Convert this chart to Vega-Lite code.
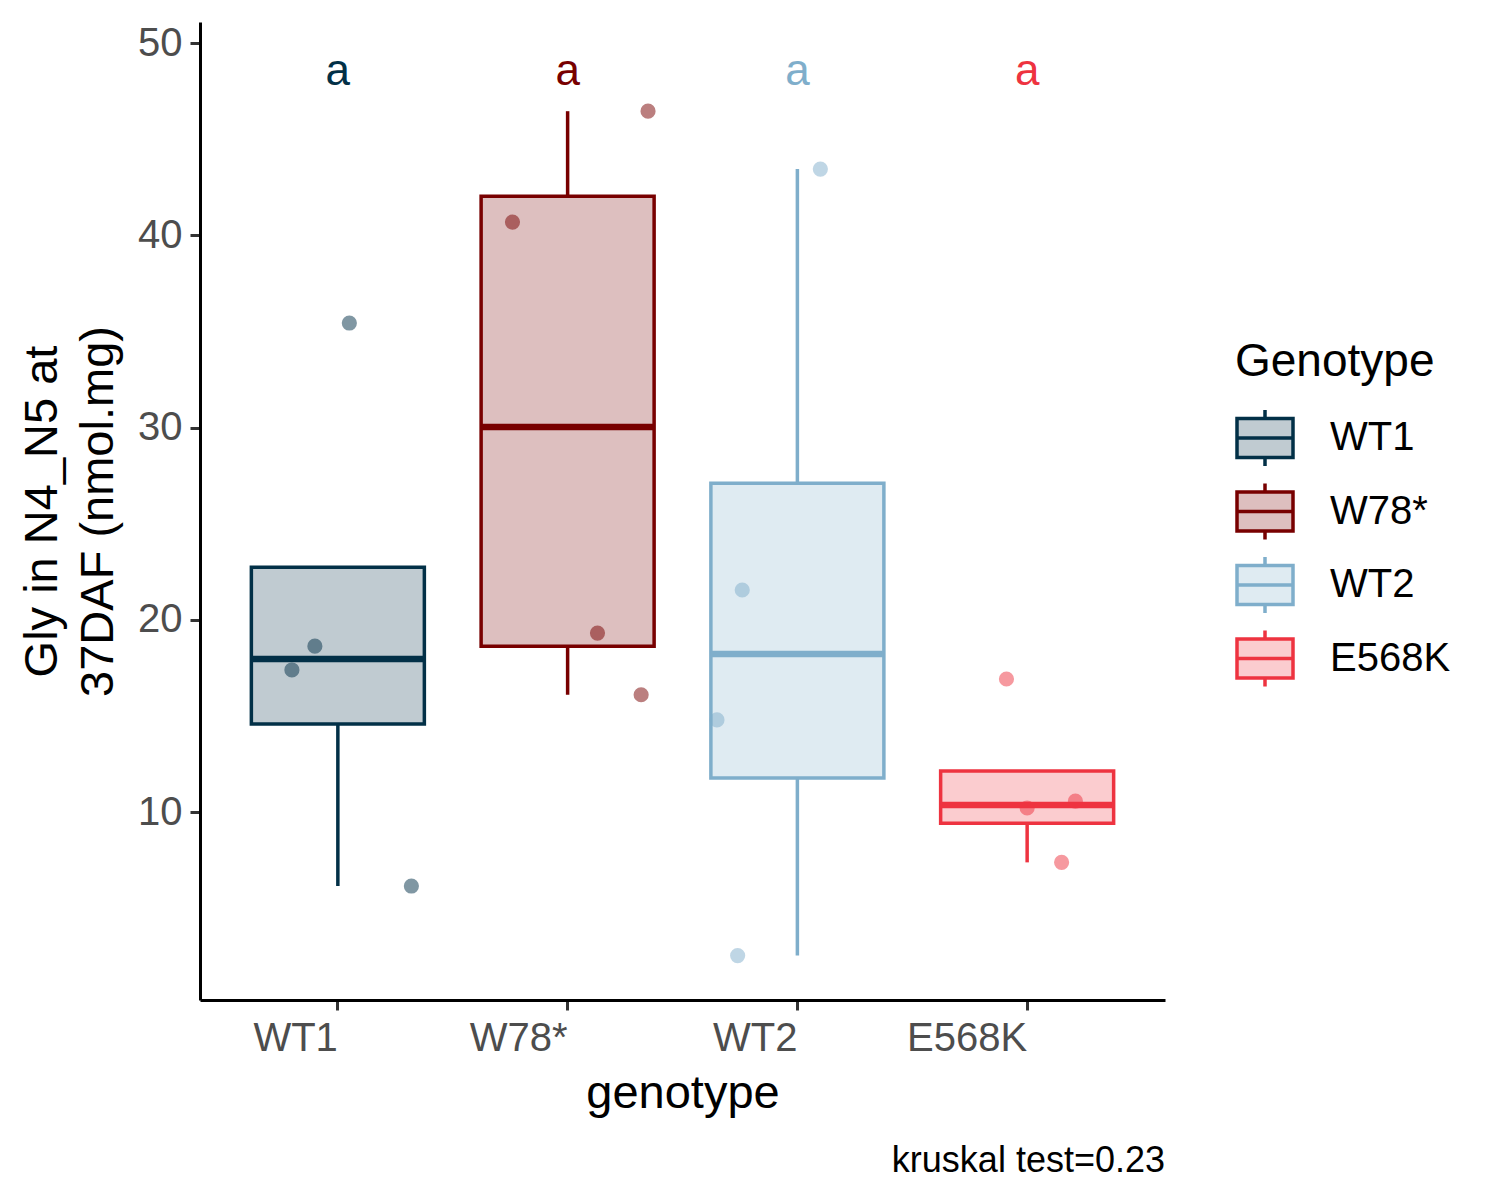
{
  "$schema": "https://vega.github.io/schema/vega-lite/v6.json",
  "autosize": {"type": "none"},
  "width": 965,
  "height": 978,
  "padding": {"left": 200, "top": 22, "right": 335, "bottom": 200},
  "background": "white",
  "config": {
    "font": "Liberation Sans",
    "view": {"stroke": null},
    "axis": {
      "grid": false,
      "domainColor": "black",
      "domainWidth": 3,
      "tickColor": "#333333",
      "tickWidth": 3,
      "tickSize": 10,
      "labelColor": "#4D4D4D",
      "labelFontSize": 40,
      "labelFont": "Liberation Sans",
      "titleFont": "Liberation Sans",
      "titleFontSize": 47,
      "titleFontWeight": "normal",
      "titleColor": "black"
    }
  },
  "title": {
    "text": "kruskal test=0.23",
    "orient": "bottom",
    "anchor": "end",
    "frame": "group",
    "fontSize": 36,
    "fontWeight": "normal",
    "color": "black",
    "font": "Liberation Sans",
    "offset": 28
  },
  "datasets": {
    "points": [
      {"genotype": "WT1", "value": 35.44, "jitter": 0.05},
      {"genotype": "WT1", "value": 18.63, "jitter": -0.10},
      {"genotype": "WT1", "value": 17.39, "jitter": -0.20},
      {"genotype": "WT1", "value": 6.15, "jitter": 0.32},
      {"genotype": "W78*", "value": 46.46, "jitter": 0.35},
      {"genotype": "W78*", "value": 40.69, "jitter": -0.24},
      {"genotype": "W78*", "value": 19.31, "jitter": 0.13},
      {"genotype": "W78*", "value": 16.10, "jitter": 0.32},
      {"genotype": "WT2", "value": 43.45, "jitter": 0.10},
      {"genotype": "WT2", "value": 21.55, "jitter": -0.24},
      {"genotype": "WT2", "value": 14.79, "jitter": -0.35},
      {"genotype": "WT2", "value": 2.53, "jitter": -0.26},
      {"genotype": "E568K", "value": 16.92, "jitter": -0.09},
      {"genotype": "E568K", "value": 10.57, "jitter": 0.21},
      {"genotype": "E568K", "value": 10.21, "jitter": 0.0},
      {"genotype": "E568K", "value": 7.38, "jitter": 0.15}
    ],
    "boxes": [
      {"genotype": "WT1", "lw": 6.15, "q1": 14.58, "med": 17.96, "q3": 22.74, "uw": 22.74},
      {"genotype": "W78*", "lw": 16.10, "q1": 18.63, "med": 30.03, "q3": 42.04, "uw": 46.46},
      {"genotype": "WT2", "lw": 2.53, "q1": 11.77, "med": 18.22, "q3": 27.11, "uw": 43.45},
      {"genotype": "E568K", "lw": 7.38, "q1": 9.42, "med": 10.36, "q3": 12.13, "uw": 12.13}
    ],
    "letters": [
      {"genotype": "WT1", "label": "a", "y": 48.5},
      {"genotype": "W78*", "label": "a", "y": 48.5},
      {"genotype": "WT2", "label": "a", "y": 48.5},
      {"genotype": "E568K", "label": "a", "y": 48.5}
    ]
  },
  "encoding": {
    "x": {
      "field": "genotype",
      "type": "nominal",
      "sort": ["WT1", "W78*", "WT2", "E568K"],
      "scale": {"paddingInner": 0, "paddingOuter": 0.1},
      "axis": {"labelAngle": 0, "labelAlign": "right", "labelPadding": 8, "title": "genotype", "titlePadding": 12}
    },
    "color": {
      "field": "genotype",
      "type": "nominal",
      "scale": {"domain": ["WT1", "W78*", "WT2", "E568K"], "range": ["#023047", "#780000", "#7FAECB", "#EE3340"]},
      "legend": {
        "title": "Genotype",
        "orient": "none",
        "legendX": 1035,
        "legendY": 318,
        "padding": 0,
        "titleFontSize": 46,
        "titleFontWeight": "normal",
        "titleColor": "black",
        "titleFont": "Liberation Sans",
        "titleLimit": 500,
        "labelLimit": 400,
        "titlePadding": 22,
        "labelFontSize": 40,
        "labelColor": "black",
        "labelFont": "Liberation Sans",
        "labelOffset": 35,
        "rowPadding": 3.5,
        "symbolType": "M-1,-0.7H1V0.7H-1Z M-1,0H1 M0,-0.7V-1 M0,0.7V1",
        "symbolSize": 3136,
        "symbolStrokeWidth": 3.5,
        "encode": {
          "symbols": {
            "update": {
              "fill": {"scale": "color", "field": "value"},
              "stroke": {"scale": "color", "field": "value"},
              "fillOpacity": {"value": 0.25},
              "strokeOpacity": {"value": 1},
              "opacity": {"value": 1},
              "strokeWidth": {"value": 3.5}
            }
          }
        }
      }
    }
  },
  "layer": [
    {
      "data": {"name": "points"},
      "mark": {"type": "point", "filled": true, "size": 230, "opacity": 0.5},
      "encoding": {
        "xOffset": {"field": "jitter", "type": "quantitative", "scale": {"domain": [-0.5, 0.5], "range": [0, 229.76]}},
        "y": {
          "field": "value",
          "type": "quantitative",
          "scale": {"domain": [0.22, 51.1], "nice": false, "zero": false},
          "axis": {"values": [10, 20, 30, 40, 50], "title": ["Gly in N4_N5 at", "37DAF (nmol.mg)"], "titleLineHeight": 56, "titlePadding": 15, "labelPadding": 8}
        }
      }
    },
    {
      "data": {"name": "boxes"},
      "mark": {"type": "rule", "strokeWidth": 3.5},
      "encoding": {
        "y": {"field": "lw", "type": "quantitative", "scale": {"domain": [0.22, 51.1], "nice": false, "zero": false}},
        "y2": {"field": "q1"}
      }
    },
    {
      "data": {"name": "boxes"},
      "mark": {"type": "rule", "strokeWidth": 3.5},
      "encoding": {
        "y": {"field": "q3", "type": "quantitative", "scale": {"domain": [0.22, 51.1], "nice": false, "zero": false}},
        "y2": {"field": "uw"}
      }
    },
    {
      "data": {"name": "boxes"},
      "mark": {"type": "bar", "width": 173, "fillOpacity": 0.25, "strokeOpacity": 0},
      "encoding": {
        "y": {"field": "q1", "type": "quantitative", "scale": {"domain": [0.22, 51.1], "nice": false, "zero": false}},
        "y2": {"field": "q3"}
      }
    },
    {
      "data": {"name": "boxes"},
      "mark": {"type": "bar", "filled": false, "width": 173, "strokeWidth": 3.5},
      "encoding": {
        "y": {"field": "q1", "type": "quantitative", "scale": {"domain": [0.22, 51.1], "nice": false, "zero": false}},
        "y2": {"field": "q3"}
      }
    },
    {
      "data": {"name": "boxes"},
      "mark": {"type": "tick", "orient": "horizontal", "size": 173, "thickness": 6.5, "opacity": 1},
      "encoding": {
        "y": {"field": "med", "type": "quantitative", "scale": {"domain": [0.22, 51.1], "nice": false, "zero": false}}
      }
    },
    {
      "data": {"name": "letters"},
      "mark": {"type": "text", "fontSize": 44, "baseline": "middle", "font": "Liberation Sans"},
      "encoding": {
        "y": {"field": "y", "type": "quantitative", "scale": {"domain": [0.22, 51.1], "nice": false, "zero": false}},
        "text": {"field": "label"}
      }
    }
  ]
}
